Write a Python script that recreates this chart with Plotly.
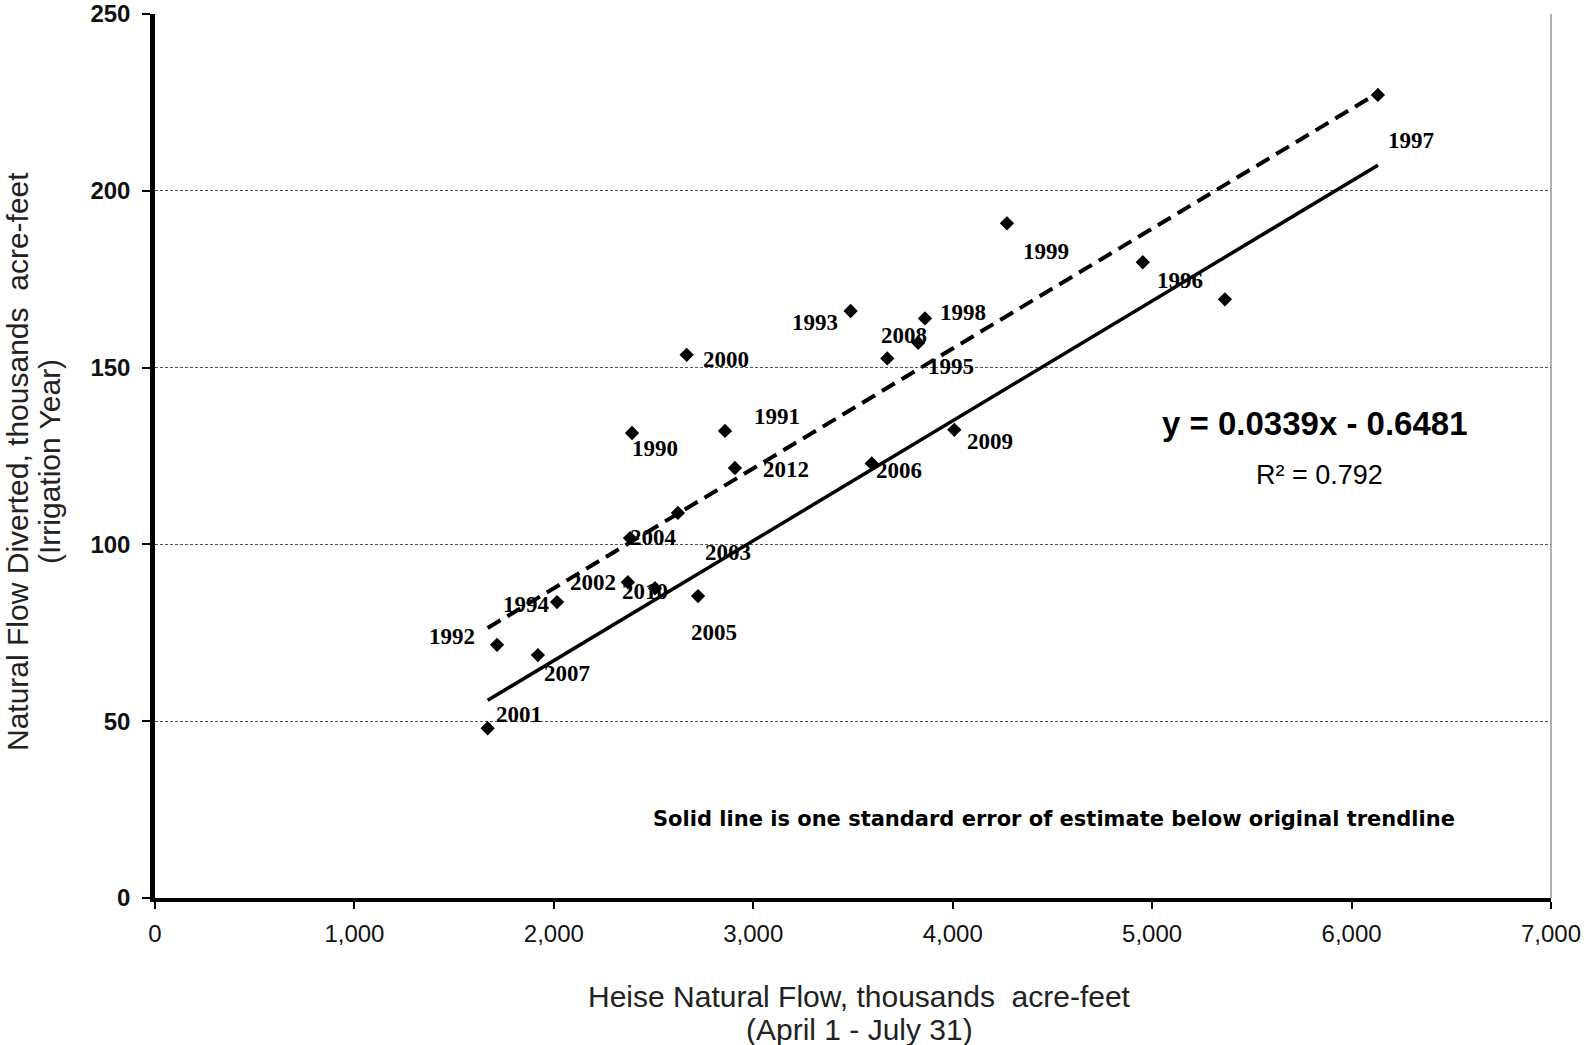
import plotly.graph_objects as go

# ---- data ----
years = [1990, 1991, 1992, 1993, 1994, 1995, 1996, 1997, 1998, 1999, 2000,
         2001, 2002, 2003, 2004, 2005, 2006, 2007, 2008, 2009, 2010, 2011, 2012]
heise_flow = [2392, 2858, 1715, 3488, 2016, 3827, 4953, 6132, 3861, 4272, 2666,
              1668, 2371, 2622, 2382, 2723, 3594, 1920, 3672, 4008, 2507, 5365, 2908]
diverted = [131.5, 132.1, 71.6, 166.0, 83.7, 157.0, 179.8, 227.1, 163.9, 190.8, 153.6,
            48.0, 89.3, 108.9, 101.8, 85.4, 122.9, 68.7, 152.6, 132.4, 87.6, 169.3, 121.6]
labeled_years = [1990, 1991, 1992, 1993, 1994, 1995, 1996, 1997, 1998, 1999, 2000,
                 2001, 2002, 2003, 2004, 2005, 2006, 2007, 2008, 2009, 2010, 2012]

x_ticks = [0, 1000, 2000, 3000, 4000, 5000, 6000, 7000]
y_ticks = [0, 50, 100, 150, 200, 250]

slope = 0.0339          # solid line (shown equation)
intercept = -0.6481
std_error = 20.45       # original trendline sits one std. error above
r_squared = 0.792

# ---- label placement (pixel offsets from the point) ----
label_offsets = {
    1990: (23, 15), 1991: (52, -14), 1992: (-45, -8), 1993: (-36, 11),
    1994: (-31, 2), 1995: (33, 24), 1996: (37, 18), 1997: (33, 46),
    1998: (38, -6), 1999: (39, 28), 2000: (39, 5), 2001: (31, -14),
    2002: (-35, 0), 2003: (50, 40), 2004: (23, -1), 2005: (16, 36),
    2006: (27, 7), 2007: (29, 18), 2008: (17, -23), 2009: (36, 12),
    2010: (-10, 3), 2012: (51, 1),
}

W, H = 1585, 1045
ML, MR, MT, MB = 155, 34, 14, 147
PW, PH = W - ML - MR, H - MT - MB


def px_x(px):
    return (px - ML) / PW


def px_y(py):
    return (H - MB - py) / PH


SANS = "Liberation Sans, Arial, sans-serif"
SERIF = "Liberation Serif, Times New Roman, serif"

fig = go.Figure()

x_min, x_max = min(heise_flow), max(heise_flow)
line_x = [x_min, x_max]
fig.add_trace(go.Scatter(
    x=line_x, y=[slope * v + intercept + std_error for v in line_x],
    mode="lines", line=dict(color="black", width=4, dash="15px,8px"),
    showlegend=False, hoverinfo="skip"))
fig.add_trace(go.Scatter(
    x=line_x, y=[slope * v + intercept for v in line_x],
    mode="lines", line=dict(color="black", width=3.5),
    showlegend=False, hoverinfo="skip"))
fig.add_trace(go.Scatter(
    x=heise_flow, y=diverted, mode="markers", text=[str(y) for y in years],
    marker=dict(symbol="diamond", size=11, color="black"),
    showlegend=False))

annotations = []
for yr, xv, yv in zip(years, heise_flow, diverted):
    if yr not in labeled_years:
        continue
    dx, dy = label_offsets[yr]
    annotations.append(dict(
        x=xv, y=yv, xref="x", yref="y", text=str(yr), showarrow=False,
        xshift=dx, yshift=-dy, xanchor="center", yanchor="middle",
        font=dict(family=SERIF, size=23, color="black", weight="bold")))

annotations += [
    dict(x=px_x(1315), y=px_y(423), xref="paper", yref="paper",
         text=f"y = {slope}x - {abs(intercept)}", showarrow=False,
         xanchor="center", yanchor="middle",
         font=dict(family=SANS, size=33, color="black", weight="bold")),
    dict(x=px_x(1319), y=px_y(475), xref="paper", yref="paper",
         text=f"R² = {r_squared}", showarrow=False,
         xanchor="center", yanchor="middle",
         font=dict(family=SANS, size=27, color="black")),
    dict(x=px_x(1054), y=px_y(819), xref="paper", yref="paper",
         text="Solid line is one standard error of estimate below original trendline",
         showarrow=False, xanchor="center", yanchor="middle",
         font=dict(family="DejaVu Sans, Verdana, sans-serif", size=21,
                   color="black", weight="bold")),
    dict(x=px_x(859), y=px_y(996), xref="paper", yref="paper",
         text="Heise Natural Flow, thousands  acre-feet", showarrow=False,
         xanchor="center", yanchor="middle",
         font=dict(family=SANS, size=30, color="#222")),
    dict(x=px_x(859), y=px_y(1029), xref="paper", yref="paper",
         text="(April 1 - July 31)", showarrow=False,
         xanchor="center", yanchor="middle",
         font=dict(family=SANS, size=30, color="#222")),
    dict(x=px_x(17), y=px_y(462), xref="paper", yref="paper",
         text="Natural Flow Diverted, thousands  acre-feet", showarrow=False,
         textangle=-90, xanchor="center", yanchor="middle",
         font=dict(family=SANS, size=30, color="#222")),
    dict(x=px_x(49), y=px_y(462), xref="paper", yref="paper",
         text="(Irrigation Year)", showarrow=False,
         textangle=-90, xanchor="center", yanchor="middle",
         font=dict(family=SANS, size=30, color="#222")),
]

fig.update_layout(
    width=W, height=H,
    margin=dict(l=ML, r=MR, t=MT, b=MB, autoexpand=False),
    paper_bgcolor="white", plot_bgcolor="white",
    annotations=annotations,
    shapes=[dict(type="line", xref="paper", yref="paper", x0=1, x1=1, y0=0, y1=1,
                 line=dict(color="#666", width=1))],
    xaxis=dict(range=[0, 7000], tickvals=x_ticks,
               ticktext=[f"{v:,}" for v in x_ticks],
               showgrid=False, zeroline=False, automargin=False,
               showline=True, linecolor="black", linewidth=4,
               ticks="outside", ticklen=7, tickwidth=2, tickcolor="black",
               ticklabelstandoff=4,
               tickfont=dict(family=SANS, size=24, color="#111")),
    yaxis=dict(range=[0, 250], tickvals=y_ticks,
               showgrid=True, gridcolor="#555", gridwidth=1, griddash="3px,2px",
               zeroline=False, automargin=False,
               showline=True, linecolor="black", linewidth=4.5,
               ticks="outside", ticklen=8, tickwidth=2, tickcolor="black",
               ticklabelstandoff=7,
               tickfont=dict(family=SANS, size=24, color="#111", weight="bold")),
)

fig.write_html("out.html",
               config={"displayModeBar": False},
               post_script="document.body.style.margin='0';"
                           "document.body.style.overflow='hidden';")
